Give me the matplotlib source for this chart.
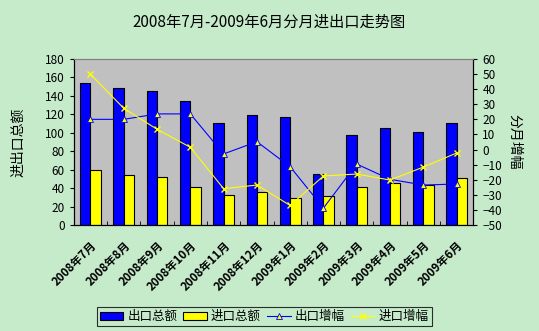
import matplotlib
matplotlib.use('Agg')
import matplotlib.pyplot as plt
import numpy as np

plt.rcParams['font.family'] = ['Noto Sans CJK SC', 'DejaVu Sans']

# data
months = ['2008年7月', '2008年8月', '2008年9月', '2008年10月', '2008年11月', '2008年12月',
          '2009年1月', '2009年2月', '2009年3月', '2009年4月', '2009年5月', '2009年6月']
export_total = [153.7, 148.2, 145.0, 134.2, 110.6, 119.0, 116.8, 55.3, 97.3, 104.8, 100.5, 110.3]
import_total = [59.3, 53.9, 51.7, 40.9, 32.2, 35.4, 29.0, 31.4, 40.9, 45.2, 43.7, 51.0]
export_growth = [20.0, 20.0, 23.6, 23.6, -2.9, 5.2, -11.4, -38.7, -9.6, -19.7, -23.5, -22.8]
import_growth = [49.9, 27.3, 13.4, 1.5, -25.9, -23.5, -37.0, -17.5, -16.2, -20.2, -11.6, -2.3]

bg = '#C6EBCB'
fig = plt.figure(figsize=(5.39, 3.31), dpi=100, facecolor=bg)
ax = fig.add_axes([0.137, 0.320, 0.741, 0.502])
ax.set_facecolor('#C0C0C0')

x = np.arange(len(months))
w = 0.31
b1 = ax.bar(x - w / 2, export_total, w, color='#0000FF', edgecolor='black', linewidth=0.8, label='出口总额', zorder=2)
b2 = ax.bar(x + w / 2, import_total, w, color='#FFFF00', edgecolor='black', linewidth=0.8, label='进口总额', zorder=2)
ax.set_xlim(-0.5, len(months) - 0.5)
ax.set_ylim(0, 180)
ax.set_yticks(np.arange(0, 181, 20))
ax.set_xticks(x)
ax.set_xticklabels(months, rotation=45, ha='right', rotation_mode='anchor', fontsize=8.3, fontweight='bold')
ax.tick_params(axis='x', length=0, pad=10)
ax.set_xticks(np.arange(-0.5, len(months), 1), minor=True)
ax.tick_params(axis='x', which='minor', direction='in', length=3)
ax.tick_params(axis='y', labelsize=8.5, length=3, direction='out')
ax.set_ylabel('进出口总额', fontsize=10, labelpad=14)

ax2 = ax.twinx()
l1, = ax2.plot(x, export_growth, color='#0000FF', linewidth=0.8, marker='^', markersize=5,
               markerfacecolor='#FFFF00', markeredgecolor='#0000FF', markeredgewidth=0.6, label='出口增幅', zorder=3)
l2, = ax2.plot(x, import_growth, color='#FFFF00', linewidth=0.8, marker='x', markersize=5,
               markeredgecolor='#FFFF00', label='进口增幅', zorder=3)
ax2.set_ylim(-50, 60)
ax2.set_yticks(np.arange(-50, 61, 10))
ax2.tick_params(axis='y', labelsize=8.5, length=3)
ax2.set_ylabel('分月增幅', fontsize=10, rotation=270, labelpad=14)

for a in (ax, ax2):
    a.spines['top'].set_color('#808080')
    a.spines['left'].set_color('black')
    a.spines['bottom'].set_color('black')
    a.spines['right'].set_color('black')

fig.suptitle('2008年7月-2009年6月分月进出口走势图', fontsize=11, y=0.96)

leg = fig.legend([b1, b2, l1, l2], ['出口总额', '进口总额', '出口增幅', '进口增幅'],
                 loc='lower center', bbox_to_anchor=(0.49, -0.005), ncol=4, fontsize=9,
                 frameon=True, fancybox=False, edgecolor='black', facecolor=bg,
                 handlelength=1.9, columnspacing=0.5, handletextpad=0.3, borderpad=0.25)
leg.get_frame().set_linewidth(0.8)

fig.savefig('out.png', dpi=100, facecolor=bg)
